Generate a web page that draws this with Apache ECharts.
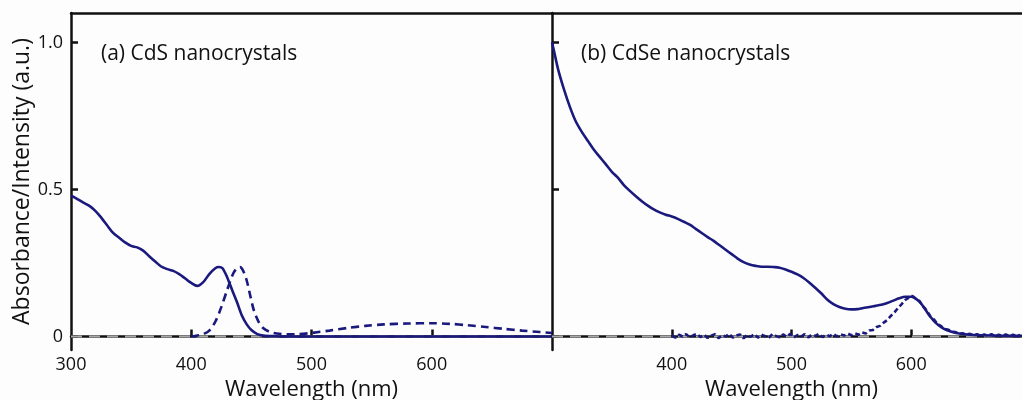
<!DOCTYPE html>
<html>
<head>
<meta charset="utf-8">
<script src="https://cdn.jsdelivr.net/npm/echarts@6/dist/echarts.min.js"></script>
<style>
  html, body { margin: 0; padding: 0; background: #fdfdfd; }
  #chart { width: 1022px; height: 400px; }
</style>
</head>
<body>
<div id="chart"></div>
<script>
// ---- (a) CdS nanocrystals: absorbance (solid) and emission (dashed) ----
const cdsAbsWl = [300, 305, 310, 315, 320, 325, 330, 335, 340, 345, 350, 355, 360, 365, 370, 375, 380, 385,
  390, 395, 400, 405, 410, 415, 420, 423, 426, 430, 434, 438, 442, 446, 450, 455, 460, 470, 480, 550, 620, 700];
const cdsAbs = [0.480, 0.468, 0.456, 0.445, 0.428, 0.405, 0.378, 0.352, 0.336, 0.320, 0.308, 0.303, 0.292, 0.273,
  0.255, 0.238, 0.229, 0.223, 0.212, 0.197, 0.182, 0.172, 0.185, 0.212, 0.232, 0.236, 0.232, 0.200, 0.158, 0.117,
  0.072, 0.042, 0.022, 0.008, 0.003, 0.001, 0.000, 0.000, 0.000, 0.000];

const cdsPlWl = [400, 405, 410, 415, 420, 425, 430, 435, 438, 440.5, 443, 446, 449, 452, 456, 460, 465, 471, 480,
  490, 500, 515, 530, 545, 560, 580, 600, 615, 630, 645, 660, 675, 690, 700];
const cdsPl = [0.000, 0.003, 0.008, 0.020, 0.050, 0.100, 0.160, 0.215, 0.232, 0.236, 0.225, 0.192, 0.140, 0.090,
  0.050, 0.028, 0.016, 0.010, 0.007, 0.008, 0.012, 0.020, 0.029, 0.036, 0.041, 0.044, 0.045, 0.043, 0.038, 0.032,
  0.026, 0.020, 0.015, 0.012];

// ---- (b) CdSe nanocrystals: absorbance (solid) and emission (dashed) ----
const cdseAbsWl = [300, 302, 305, 310, 315, 320, 325, 330, 335, 340, 345, 350, 355, 360, 365, 370, 375, 380, 385,
  390, 395, 400, 405, 410, 415, 420, 425, 430, 435, 440, 445, 450, 455, 460, 465, 470, 475, 480, 485, 490, 495,
  500, 505, 510, 515, 520, 525, 530, 535, 540, 545, 550, 555, 560, 565, 570, 575, 580, 585, 590, 595, 600, 604,
  608, 612, 616, 620, 625, 630, 635, 640, 650, 660, 670, 680, 700];
const cdseAbs = [1.000, 0.965, 0.910, 0.840, 0.780, 0.730, 0.695, 0.665, 0.635, 0.610, 0.585, 0.560, 0.540, 0.515,
  0.495, 0.477, 0.460, 0.445, 0.432, 0.422, 0.414, 0.408, 0.400, 0.390, 0.380, 0.366, 0.352, 0.338, 0.325, 0.310,
  0.295, 0.280, 0.265, 0.253, 0.245, 0.240, 0.237, 0.237, 0.236, 0.234, 0.228, 0.220, 0.211, 0.199, 0.183, 0.165,
  0.146, 0.125, 0.110, 0.100, 0.094, 0.092, 0.093, 0.097, 0.100, 0.104, 0.108, 0.114, 0.122, 0.130, 0.135, 0.135,
  0.128, 0.113, 0.090, 0.067, 0.048, 0.032, 0.021, 0.014, 0.010, 0.006, 0.004, 0.003, 0.002, 0.002];

const cdsePlWl = [400, 403, 406, 409, 412, 415, 418, 421, 424, 427, 430, 433, 436, 439, 442, 445, 448, 451, 454,
  457, 460, 463, 466, 469, 472, 475, 478, 481, 484, 487, 490, 493, 496, 499, 502, 505, 508, 511, 514, 517, 520,
  523, 526, 529, 532, 535, 538, 541, 544, 547, 550, 553, 556, 559, 562, 565, 568, 571, 574, 577, 580, 583, 586,
  589, 592, 595, 598, 601, 604, 607, 610, 613, 616, 619, 622, 625, 628, 631, 634, 637, 640, 643, 646, 649, 652,
  655, 658, 661, 664, 667, 670, 673, 676, 679, 682, 685, 688, 691];
const cdsePl = [0.004, -0.004, 0.006, 0.000, 0.008, -0.003, 0.004, 0.009, -0.002, 0.006, -0.005, 0.003, 0.008,
  -0.006, 0.004, 0.000, 0.009, -0.004, 0.003, 0.007, -0.006, 0.005, -0.001, 0.008, -0.004, 0.006, 0.001, -0.005,
  0.008, 0.002, -0.003, 0.007, -0.001, 0.009, -0.004, 0.005, 0.000, 0.008, -0.003, 0.006, 0.002, 0.009, -0.002,
  0.006, 0.001, 0.009, 0.000, 0.007, 0.003, 0.010, 0.004, 0.011, 0.006, 0.014, 0.010, 0.020, 0.022, 0.032, 0.036,
  0.047, 0.056, 0.070, 0.082, 0.097, 0.110, 0.124, 0.132, 0.138, 0.128, 0.120, 0.102, 0.088, 0.068, 0.058, 0.042,
  0.035, 0.026, 0.023, 0.016, 0.015, 0.009, 0.011, 0.006, 0.009, 0.003, 0.008, 0.002, 0.007, 0.001, 0.008, 0.000,
  0.006, 0.002, 0.007, -0.001, 0.006, 0.001, 0.005];

// zero reference line shared by both panels
const baseWl = [300, 700];
const baseVal = [0, 0];

// axis tick positions and labels
const yTicks = [0, 0.5, 1];
const yTickText = ['0', '0.5', '1.0'];
const xLabelsA = [300, 400, 500, 600];
const xTicksA = [400, 500, 600];
const xLabelsB = [400, 500, 600];
const panelTitles = ['(a) CdS nanocrystals', '(b) CdSe nanocrystals'];
const xName = 'Wavelength (nm)';
const yName = 'Absorbance/Intensity (a.u.)';

const pairs = (xs, ys) => xs.map((x, i) => [x, ys[i]]);

const NAVY = '#1a1a7e';
const INK = '#111111';
const FONT = 'Open Sans';

const lineAxis = { show: true, lineStyle: { color: INK, width: 2.5 } };

function bottomAxis(gridIndex, labels, ticks) {
  return {
    type: 'value', gridIndex, position: 'bottom', min: 300, max: 700,
    axisLine: lineAxis,
    axisTick: { show: true, inside: true, length: 7, customValues: ticks, lineStyle: { color: INK, width: 2.5 } },
    axisLabel: { customValues: labels, margin: 6, fontSize: 18, color: INK, fontFamily: FONT },
    splitLine: { show: false },
    name: xName, nameLocation: 'middle', nameGap: 23,
    nameTextStyle: { fontSize: 22, color: INK, fontFamily: FONT }
  };
}

function topAxis(gridIndex) {
  return {
    type: 'value', gridIndex, position: 'top', min: 300, max: 700,
    axisLine: lineAxis, axisTick: { show: false }, axisLabel: { show: false }, splitLine: { show: false }
  };
}

function leftAxis(gridIndex, withLabels) {
  return {
    type: 'value', gridIndex, min: -0.046, max: 1.1,
    axisLine: lineAxis,
    axisTick: { show: true, inside: true, length: 7, customValues: yTicks, lineStyle: { color: INK, width: 2.5 } },
    axisLabel: withLabels
      ? { customValues: yTicks, margin: 8, fontSize: 18, color: INK, fontFamily: FONT,
          formatter: v => yTickText[yTicks.indexOf(v)] ?? '' }
      : { show: false },
    splitLine: { show: false },
    name: withLabels ? yName : '', nameLocation: 'middle', nameGap: 37, nameRotate: 90,
    nameTextStyle: { fontSize: 23, color: INK, fontFamily: FONT }
  };
}

function curve(name, xi, yi, data, dashed) {
  return {
    name, type: 'line', xAxisIndex: xi, yAxisIndex: yi, data, smooth: 0.3, symbol: 'none',
    lineStyle: { color: NAVY, width: 2.6, type: dashed ? [8, 5] : 'solid' }, z: 3
  };
}

function baseline(xi, yi) {
  return {
    name: 'zero', type: 'line', xAxisIndex: xi, yAxisIndex: yi, data: pairs(baseWl, baseVal),
    symbol: 'none', silent: true, lineStyle: { color: '#a9a9a9', width: 2, type: [11, 7] }, z: 2
  };
}

const chart = echarts.init(document.getElementById('chart'), null, { renderer: 'canvas' });
chart.setOption({
  backgroundColor: '#fdfdfd',
  animation: false,
  title: [
    { text: panelTitles[0], left: 96, top: 39, textStyle: { fontSize: 21, fontWeight: 'normal', color: INK, fontFamily: FONT } },
    { text: panelTitles[1], left: 576, top: 39, textStyle: { fontSize: 21, fontWeight: 'normal', color: INK, fontFamily: FONT } }
  ],
  grid: [
    { left: 71, right: 470, top: 13, bottom: 50, containLabel: false, outerBoundsMode: 'none' },
    { left: 552, right: -9, top: 13, bottom: 50, containLabel: false, outerBoundsMode: 'none' }
  ],
  xAxis: [bottomAxis(0, xLabelsA, xTicksA), topAxis(0), bottomAxis(1, xLabelsB, xLabelsB), topAxis(1)],
  yAxis: [leftAxis(0, true), leftAxis(1, false)],
  series: [
    baseline(0, 0),
    baseline(2, 1),
    curve('CdS absorbance', 0, 0, pairs(cdsAbsWl, cdsAbs), false),
    curve('CdS emission', 0, 0, pairs(cdsPlWl, cdsPl), true),
    curve('CdSe absorbance', 2, 1, pairs(cdseAbsWl, cdseAbs), false),
    Object.assign(curve('CdSe emission', 2, 1, pairs(cdsePlWl, cdsePl), true),
      { smooth: false, lineStyle: { color: NAVY, width: 2.6, type: [5, 3] } })
  ]
});
</script>
</body>
</html>
